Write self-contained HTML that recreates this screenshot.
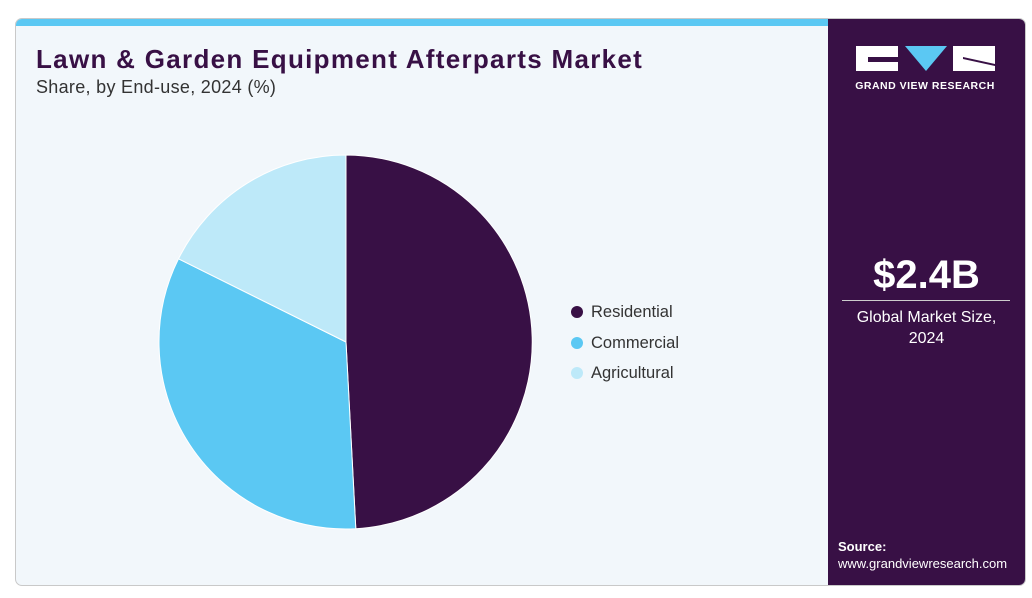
<!DOCTYPE html>
<html><head><meta charset="utf-8"><style>
body{margin:0;width:1032px;height:598px;background:#fff;font-family:"Liberation Sans",sans-serif;position:relative;overflow:hidden}
.card{position:absolute;left:15px;top:18px;width:1009px;height:566px;border:1px solid #c9c9c9;border-radius:7px;background:#f2f7fb;overflow:hidden}
.bar{position:absolute;left:0;top:0;width:813px;height:7px;background:#5bc8f3}
.side{position:absolute;left:812px;top:0;width:197px;height:566px;background:#381045}
h1{position:absolute;left:20px;top:25px;margin:0;font-size:26px;font-weight:bold;color:#381045;letter-spacing:1.3px}
.sub{position:absolute;left:20px;top:58px;font-size:18px;color:#333;letter-spacing:0.3px}
.leg{position:absolute;left:555px;font-size:16.5px;color:#333}
.leg span{display:inline-block;width:12px;height:12px;border-radius:50%;margin-right:8px;vertical-align:-1px}
</style></head><body>
<div class="card">
<div class="bar"></div>
<h1>Lawn &amp; Garden Equipment Afterparts Market</h1>
<div class="sub">Share, by End-use, 2024 (%)</div>
<div class="leg" style="top:284px"><span style="background:#381045"></span>Residential</div>
<div class="leg" style="top:315px"><span style="background:#5bc8f3"></span>Commercial</div>
<div class="leg" style="top:345px"><span style="background:#bde9f9"></span>Agricultural</div>
<div class="side">
<svg width="197" height="80" style="position:absolute;left:0;top:0">
<rect x="28" y="27" width="42" height="25" fill="#fff"/>
<rect x="40" y="38" width="30" height="5" fill="#381045"/>
<polygon points="77,27 119,27 98,52" fill="#5bc8f3"/>
<rect x="125" y="27" width="42" height="25" fill="#fff"/>
<polygon points="135,38 167,45 167,47 135,40" fill="#381045"/>
<text x="97" y="70" fill="#fff" font-size="10.5" font-weight="bold" text-anchor="middle" font-family="Liberation Sans" letter-spacing="0.5">GRAND VIEW RESEARCH</text>
</svg>
<div style="position:absolute;left:0;width:197px;top:234px;text-align:center;color:#fff;font-size:40px;font-weight:bold">$2.4B</div>
<div style="position:absolute;left:14px;width:168px;top:281px;height:1px;background:#ccc"></div>
<div style="position:absolute;left:0;width:197px;top:288px;text-align:center;color:#fff;font-size:16px;line-height:21px">Global Market Size,<br>2024</div>
<div style="position:absolute;left:10px;top:519px;color:#fff;font-size:13px;line-height:17px"><b>Source:</b><br>www.grandviewresearch.com</div>
</div>
</div>
<svg width="1032" height="598" style="position:absolute;left:0;top:0">
<path d="M346,342 L346,155 A187,187 0 0,1 355.8,528.7 Z" fill="#381045" stroke="#fff" stroke-width="1"/>
<path d="M346,342 L355.8,528.7 A187,187 0 0,1 178.5,258.8 Z" fill="#5bc8f3" stroke="#fff" stroke-width="1"/>
<path d="M346,342 L178.5,258.8 A187,187 0 0,1 346,155 Z" fill="#bde9f9" stroke="#fff" stroke-width="1"/>
</svg>
</body></html>
